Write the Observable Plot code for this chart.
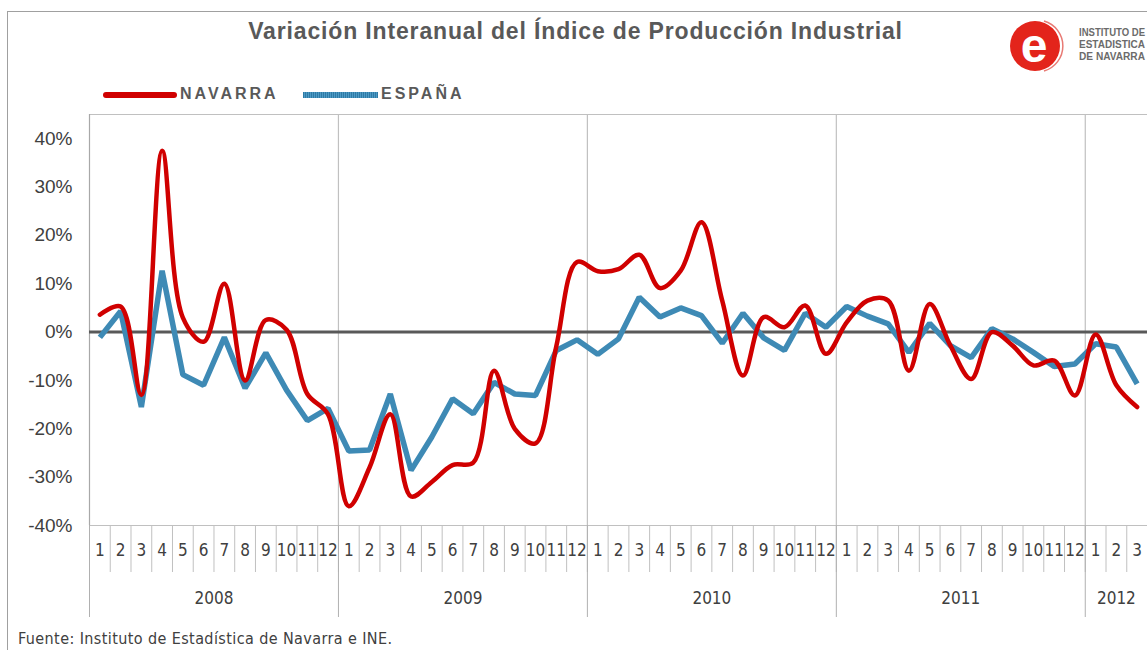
<!DOCTYPE html>
<html>
<head>
<meta charset="utf-8">
<script src="https://cdn.jsdelivr.net/npm/d3@7"></script>
<script src="https://cdn.jsdelivr.net/npm/@observablehq/plot@0.6"></script>
<style>
  html, body { margin: 0; padding: 0; background: #fff; }
  #wrap { position: relative; width: 1147px; height: 650px; overflow: hidden; background: #fff; }
  #chart { position: absolute; left: 0; top: 0; }
  .abs { position: absolute; white-space: nowrap; }
  #title { left: 0; width: 1151px; top: 18px; text-align: center; font: bold 23px "Liberation Sans", Arial, sans-serif; color: #595959; letter-spacing: 0.85px; }
  .leg { top: 85px; font: bold 16px "Liberation Sans", Arial, sans-serif; color: #595959; letter-spacing: 3px; }
  #footer { left: 18px; top: 629px; font: 16px "Liberation Sans Narrow", "DejaVu Sans Condensed", "Arial Narrow", sans-serif; color: #404040; letter-spacing: 0.4px; }
  #bleft { left: 7px; top: 11px; width: 0; height: 660px; border-left: 1.5px solid #a0a0a0; }
  #btop { left: 7px; top: 11px; width: 1160px; height: 0; border-top: 1.5px solid #a0a0a0; }
</style>
</head>
<body>
<div id="wrap">
  <div id="bleft" class="abs"></div>
  <div id="btop" class="abs"></div>
  <div id="title" class="abs">Variación Interanual del Índice de Producción Industrial</div>
  <svg class="abs" style="left:1005px;top:17px" width="142" height="58">
    <circle cx="30" cy="29" r="25" fill="#e3241b"/>
    <path d="M39 4 A 26 26 0 0 1 39 54" fill="none" stroke="#e87a74" stroke-width="1.5"/>
    <text x="29" y="45" text-anchor="middle" font-family="Liberation Sans, Arial, sans-serif" font-weight="bold" font-size="48" fill="#fff">e</text>
    <text x="74" y="19" font-family="Liberation Sans, Arial, sans-serif" font-weight="bold" font-size="10" fill="#6b6b6b" textLength="66" lengthAdjust="spacingAndGlyphs">INSTITUTO DE</text>
    <text x="74" y="31" font-family="Liberation Sans, Arial, sans-serif" font-weight="bold" font-size="10" fill="#6b6b6b" textLength="66" lengthAdjust="spacingAndGlyphs">ESTADISTICA</text>
    <text x="74" y="43" font-family="Liberation Sans, Arial, sans-serif" font-weight="bold" font-size="10" fill="#6b6b6b" textLength="66" lengthAdjust="spacingAndGlyphs">DE NAVARRA</text>
  </svg>
  <div class="abs" style="left:103px;top:92px;width:74px;height:6px;background:#d00000;border-radius:3px"></div>
  <div class="abs leg" style="left:180px">NAVARRA</div>
  <div class="abs" style="left:303px;top:92px;width:75px;height:6px;background:repeating-linear-gradient(90deg,#2e7aa6 0 1px,#4d9ac4 1px 2px)"></div>
  <div class="abs leg" style="left:381px">ESPAÑA</div>
  <div id="chart"></div>
  <div id="footer" class="abs">Fuente: Instituto de Estadística de Navarra e INE.</div>
</div>
<script>
// ---- data ----
const years = ["2008", "2009", "2010", "2011", "2012"];
const monthsPerYear = [12, 12, 12, 12, 3];
const monthLabels = ["1","2","3","4","5","6","7","8","9","10","11","12"];
const navarra = [
  3.6, 5.3, -13, 37.5, 3, -2, 10, -10, 2.5, 0.5, -12.8, -17,
  -36, -28, -17, -34, -31, -27.5, -27, -8, -20, -23, -3, 14.5,
  12.6, 13, 16, 9.1, 12.7, 22.7, 6.5, -9, 3.1, 1, 5.5, -4.5,
  2, 6.5, 6.5, -8, 5.8, -2.8, -9.7, 0, -2.8, -6.9, -5.9, -13.1,
  -0.5, -11, -15.5
];
const espana = [
  -1.1, 4.3, -15.5, 12.7, -8.8, -11, -1.1, -11.6, -4.3, -12, -18.3, -15.8,
  -24.6, -24.4, -12.8, -28.6, -21.7, -13.8, -16.9, -10.4, -12.8, -13.1, -3.8, -1.6,
  -4.6, -1.4, 7.2, 3.1, 5, 3.4, -2.3, 3.9, -1.2, -3.8, 3.9, 1,
  5.3, 3.3, 1.7, -4.2, 1.8, -2.8, -5.3, 0.7, -1.4, -4.2, -7.1, -6.6,
  -2.4, -3.1, -10.7
];
const yTicks = [-40, -30, -20, -10, 0, 10, 20, 30, 40];

// ---- derived structures ----
const n = navarra.length;
const catLabels = [];
monthsPerYear.forEach(m => { for (let k = 0; k < m; k++) catLabels.push(monthLabels[k]); });
const centers = d3.range(n).map(i => i + 0.5);
const boundaries = d3.range(n + 1);
const yearStarts = [];
const yearMids = [];
{ let s = 0; monthsPerYear.forEach(m => { yearStarts.push(s); yearMids.push(s + m / 2); s += m; }); }
const navData = navarra.map((v, i) => ({ x: i + 0.5, v }));
const espData = espana.map((v, i) => ({ x: i + 0.5, v }));

const narrow = '"Liberation Sans Narrow", "DejaVu Sans Condensed", "Arial Narrow", sans-serif';

const chart = Plot.plot({
  width: 1147,
  height: 625,
  marginLeft: 89,
  marginRight: 0,
  marginTop: 114,
  marginBottom: 100,
  x: { domain: [0, n] },
  y: { domain: [-40, 45] },
  style: { background: "transparent", color: "#404040", fontFamily: '"Liberation Sans", Arial, sans-serif' },
  marks: [
    Plot.ruleX(yearStarts.slice(1), { stroke: "#c0c0c0", strokeWidth: 1.2 }),
    Plot.ruleY([45], { stroke: "#c0c0c0", strokeWidth: 1.2 }),
    Plot.ruleY([-40], { stroke: "#c0c0c0", strokeWidth: 1.2 }),
    Plot.ruleX([0], { stroke: "#a8a8a8", strokeWidth: 1.2 }),
    Plot.axisY({ ticks: yTicks, tickSize: 0, tickPadding: 17, tickFormat: d => d + "%", fontSize: 19, label: null, fill: "#404040", style: { letterSpacing: "0.8px" } }),
    Plot.axisX({ ticks: boundaries, tickSize: 47, tickFormat: () => "", stroke: "#c0c0c0", label: null }),
    Plot.axisX({ ticks: yearStarts, tickSize: 92, tickFormat: () => "", stroke: "#b0b0b0", label: null }),
    Plot.axisX({ ticks: centers, tickSize: 0, tickPadding: 18, tickFormat: d => catLabels[Math.floor(d)], fontSize: 17, fontFamily: narrow, label: null, fill: "#404040" }),
    Plot.axisX({ ticks: yearMids, tickSize: 0, tickPadding: 66, tickFormat: d => years[yearMids.indexOf(d)], fontSize: 17, fontFamily: narrow, label: null, fill: "#404040" }),
    Plot.ruleY([0], { stroke: "#595959", strokeWidth: 3 }),
    Plot.line(espData, { x: "x", y: "v", stroke: "url(#hatch)", strokeWidth: 5.5, strokeLinejoin: "miter", strokeLinecap: "butt" }),
    Plot.line(navData, { x: "x", y: "v", stroke: "#d00000", strokeWidth: 4.5, curve: "catmull-rom", strokeLinejoin: "round", strokeLinecap: "round" })
  ]
});

d3.select(chart).insert("defs", ":first-child").html(
  '<pattern id="hatch" x="0" y="0" width="2" height="4" patternUnits="userSpaceOnUse">' +
  '<rect width="2" height="4" fill="#4d9ac4"/><rect width="1" height="4" fill="#2e7aa6"/></pattern>'
);
document.getElementById("chart").appendChild(chart);
</script>
</body>
</html>
